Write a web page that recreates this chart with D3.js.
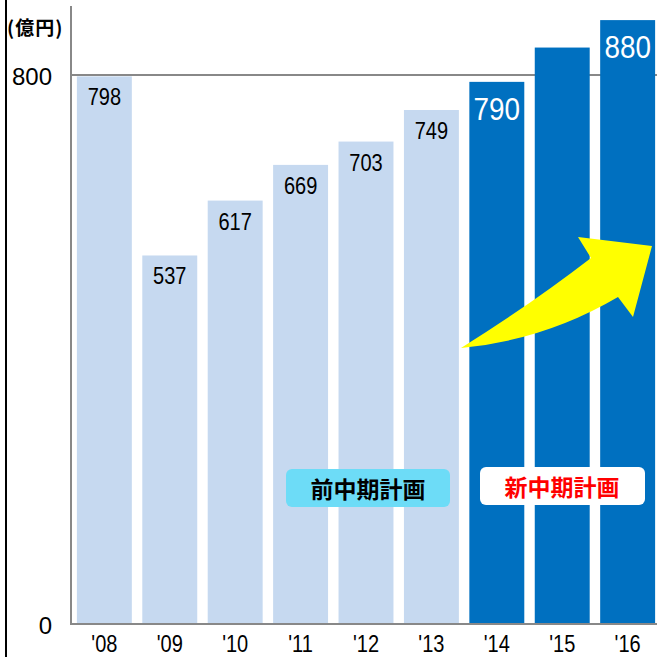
<!DOCTYPE html>
<html>
<head>
<meta charset="utf-8">
<script src="https://cdn.jsdelivr.net/npm/d3@7"></script>
<style>
body { margin:0; background:#fff; }
.narrow { font-family:"Liberation Sans",Arial,sans-serif; }
.jp { font-family:"Noto Sans CJK JP","Noto Sans",sans-serif; font-weight:bold; }
</style>
</head>
<body>
<svg id="chart"></svg>
<script>
// data
var years = ["'08","'09","'10","'11","'12","'13","'14","'15","'16"]
var sales = [798, 537, 617, 669, 703, 749, 790, 840, 880]
var labels = ["798","537","617","669","703","749","790","","880"]
var plan = ["old","old","old","old","old","old","new","new","new"]
var yTicks = [0, 800]

var screen = {width:657, height:657}
var margins = {left:71, top:75, bottom:33}

var svg = d3.select("#chart")
    .attr("width", screen.width)
    .attr("height", screen.height)

var xScale = d3.scaleBand()
    .domain(years)
    .range([margins.left, 661])
    .paddingInner(0.16)
    .paddingOuter(0.09)

var yScale = d3.scaleLinear()
    .domain([0, 800])
    .range([screen.height - margins.bottom, margins.top])

var colors = {old:"#c6d9f0", new:"#0070c0"}

// left border
svg.append("line")
    .attr("x1", 6).attr("x2", 6)
    .attr("y1", 0).attr("y2", screen.height)
    .attr("stroke", "#000").attr("stroke-width", 2)

// gridline 800
svg.append("line")
    .attr("x1", margins.left).attr("x2", screen.width)
    .attr("y1", yScale(800)).attr("y2", yScale(800))
    .attr("stroke", "#888").attr("stroke-width", 2)

// bars
var rows = years.map(function(y, i) {
    return {year:y, value:sales[i], label:labels[i], plan:plan[i]}
})

svg.append("g").selectAll("rect")
    .data(rows)
    .enter()
    .append("rect")
    .attr("x", function(d) { return xScale(d.year) })
    .attr("y", function(d) { return yScale(d.value) })
    .attr("width", xScale.bandwidth())
    .attr("height", function(d) { return yScale(0) - yScale(d.value) })
    .attr("fill", function(d) { return colors[d.plan] })

// value labels (narrowed text)
svg.append("g").selectAll("text")
    .data(rows)
    .enter()
    .append("text")
    .classed("narrow", true)
    .attr("text-anchor", "middle")
    .attr("transform", function(d) {
        var x = xScale(d.year) + xScale.bandwidth()/2
        var y = yScale(d.value) + (d.plan == "new" ? 38 : 29)
        return "translate(" + x + "," + y + ") scale(0.87,1)"
    })
    .attr("font-size", function(d) { return d.plan == "new" ? 32 : 23 })
    .attr("fill", function(d) { return d.plan == "new" ? "#fff" : "#000" })
    .text(function(d) { return d.label })

// axes lines
svg.append("line")
    .attr("x1", margins.left).attr("x2", margins.left)
    .attr("y1", 6).attr("y2", yScale(0)+1)
    .attr("stroke", "#888").attr("stroke-width", 2)
svg.append("line")
    .attr("x1", margins.left).attr("x2", screen.width)
    .attr("y1", yScale(0)).attr("y2", yScale(0))
    .attr("stroke", "#888").attr("stroke-width", 2)

// y tick labels
svg.append("g").selectAll("text")
    .data(yTicks)
    .enter()
    .append("text")
    .attr("font-family", "Liberation Sans, Arial, sans-serif")
    .attr("font-size", 24)
    .attr("text-anchor", "end")
    .attr("x", 52)
    .attr("y", function(d) { return yScale(d) + 10 })
    .text(function(d) { return d })

svg.append("text")
    .classed("jp", true)
    .attr("font-size", 19)
    .attr("letter-spacing", 1)
    .attr("x", 7)
    .attr("y", 35)
    .text("(億円)")

// x labels
svg.append("g").selectAll("text")
    .data(years)
    .enter()
    .append("text")
    .classed("narrow", true)
    .attr("font-size", 23)
    .attr("text-anchor", "middle")
    .attr("transform", function(d) {
        return "translate(" + (xScale(d) + xScale.bandwidth()/2) + ",652) scale(0.87,1)"
    })
    .text(function(d) { return d })

// arrow
svg.append("path")
    .attr("d", "M461,348 Q530,305 591,258 L578,237 L652,246 L633,317 L618,297 Q545,340 461,348 Z")
    .attr("fill", "#ffff00")

// plan boxes
svg.append("rect")
    .attr("x", 286).attr("y", 469).attr("width", 164).attr("height", 38)
    .attr("rx", 6).attr("fill", "#6ddcf7")
svg.append("text")
    .classed("jp", true)
    .attr("font-size", 23).attr("text-anchor", "middle")
    .attr("x", 368).attr("y", 498)
    .attr("fill", "#000")
    .text("前中期計画")

svg.append("rect")
    .attr("x", 480).attr("y", 467).attr("width", 165).attr("height", 38)
    .attr("rx", 6).attr("fill", "#fff")
svg.append("text")
    .classed("jp", true)
    .attr("font-size", 23).attr("text-anchor", "middle")
    .attr("x", 562).attr("y", 496)
    .attr("fill", "#ff0000")
    .text("新中期計画")
</script>
</body>
</html>
